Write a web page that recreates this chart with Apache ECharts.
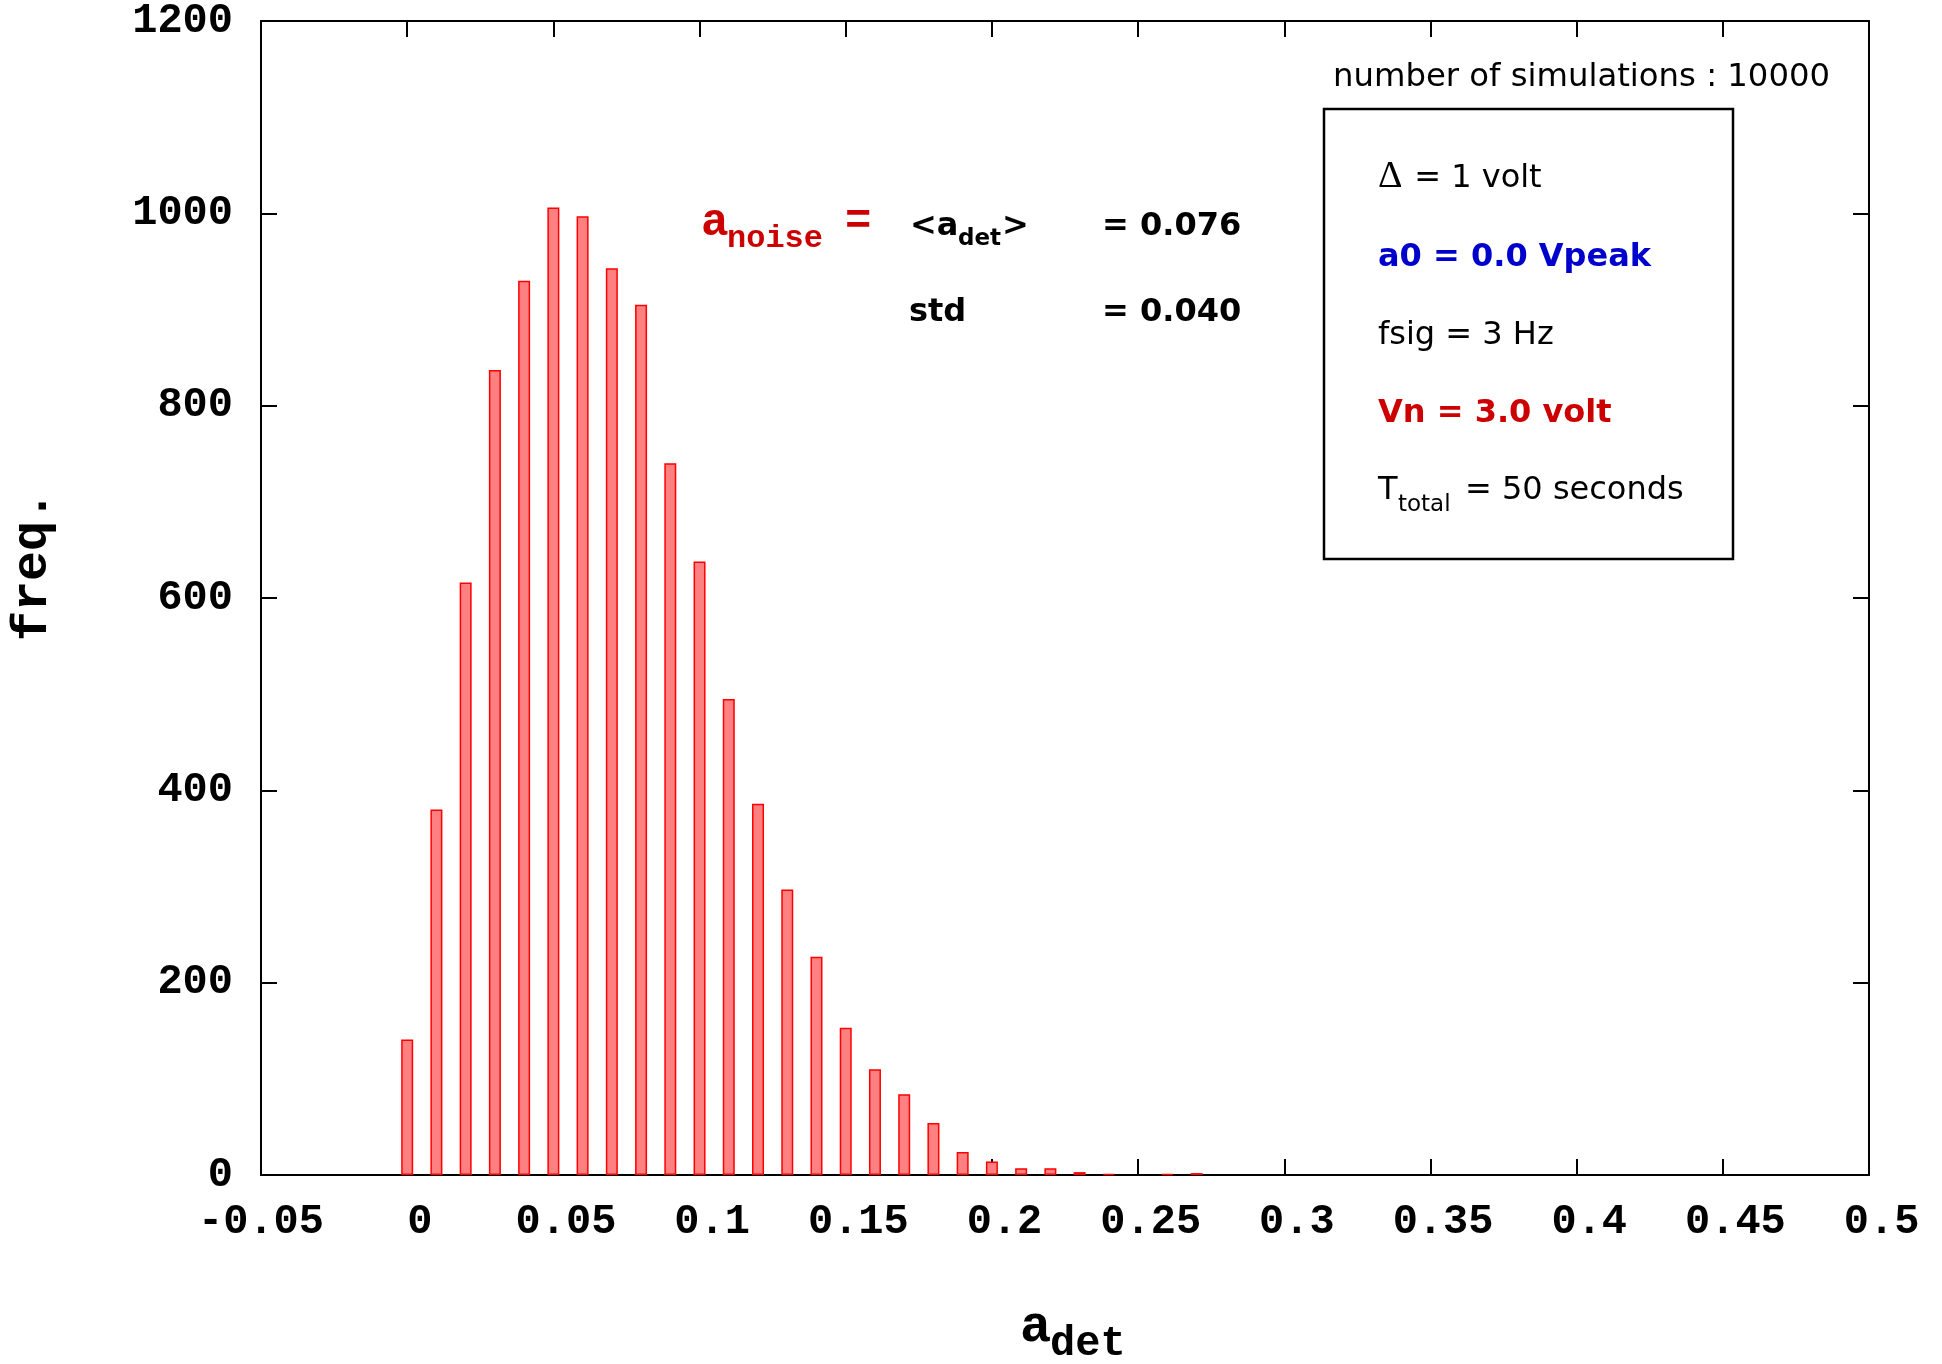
<!DOCTYPE html>
<html>
<head>
<meta charset="utf-8">
<title>Distribution of a_det</title>
<script src="https://cdn.jsdelivr.net/npm/echarts@6/dist/echarts.min.js"></script>
<style>
  html, body { margin: 0; padding: 0; background: #ffffff; }
  #chart { width: 1942px; height: 1364px; }
</style>
</head>
<body>
<div id="chart"></div>
<script>
// Histogram of the detected amplitude a_det over 10000 simulations (bin width 0.01)
const binCenters = [0.00, 0.01, 0.02, 0.03, 0.04, 0.05, 0.06, 0.07, 0.08, 0.09,
                    0.10, 0.11, 0.12, 0.13, 0.14, 0.15, 0.16, 0.17, 0.18, 0.19,
                    0.20, 0.21, 0.22, 0.23, 0.24, 0.26, 0.27];
const counts = [141, 380, 616, 837, 930, 1006, 997, 943, 905, 740,
                638, 495, 386, 297, 227, 153, 110, 84, 54, 24,
                14, 7, 7, 3, 1, 1, 2];

// Axis ranges and tick steps
const xRange = [-0.05, 0.5];
const xStep = 0.05;
const yRange = [0, 1200];
const yStep = 200;

// Annotation texts
const statsMean = '= 0.076';
const statsStd = '= 0.040';
const nSimText = 'number of simulations : 10000';
const paramLines = ['1 volt', 'a0 = 0.0 Vpeak', 'fsig = 3 Hz', 'Vn = 3.0 volt', '= 50 seconds'];

const MONO = '"Liberation Mono", "Courier New", monospace';
const SANS = '"DejaVu Sans", Verdana, sans-serif';
const RED = '#cc0000';
const BLUE = '#0000cc';

const chart = echarts.init(document.getElementById('chart'), null, { renderer: 'canvas' });

const barData = binCenters.map((x, i) => [x, counts[i]]);

// positive x labels carry a leading blank in place of the sign
function fmtX(v) {
  const s = String(parseFloat(v.toFixed(2)));
  return v < 0 ? s : ' ' + s;
}
function fmtY(v) {
  return String(Math.round(v));
}

const axisLineStyle = { color: '#000', width: 2 };
const tickStyle = { show: true, inside: true, length: 16, lineStyle: { color: '#000', width: 2 } };
const tickLabel = { fontFamily: MONO, fontWeight: 'bold', fontSize: 42, color: '#000' };

// Text helper: x = left edge, base = approximate baseline
function txt(x, base, text, font, size, weight, color) {
  return {
    type: 'text', x: x, y: base - 0.3 * size, silent: true,
    style: { text: text, fontFamily: font, fontSize: size, fontWeight: weight,
             fill: color, align: 'left', verticalAlign: 'middle' }
  };
}

const graphics = [
  // stats block
  txt(701, 237, 'a', MONO, 46, 'bold', RED),
  txt(727, 249, 'noise', MONO, 32, 'bold', RED),
  txt(845, 236, '=', MONO, 44, 'bold', RED),
  txt(910, 236, '<a', SANS, 32, 'bold', '#000'),
  txt(958, 246, 'det', SANS, 23, 'bold', '#000'),
  txt(1002, 236, '>', SANS, 32, 'bold', '#000'),
  txt(1102, 236, statsMean, SANS, 32, 'bold', '#000'),
  txt(909, 322, 'std', SANS, 32, 'bold', '#000'),
  txt(1102, 322, statsStd, SANS, 32, 'bold', '#000'),
  // simulation count
  txt(1333, 87, nSimText, SANS, 32.3, 'normal', '#000'),
  // parameter box
  {
    type: 'rect', silent: true,
    shape: { x: 1324, y: 109, width: 409, height: 450 },
    style: { fill: 'none', stroke: '#000', lineWidth: 2.5 }
  },
  txt(1378, 188, 'Δ', '"Liberation Serif", serif', 38, 'normal', '#000'),
  txt(1404, 188, ' = ' + paramLines[0], SANS, 32, 'normal', '#000'),
  txt(1378, 267, paramLines[1], SANS, 32, 'bold', BLUE),
  txt(1378, 345, paramLines[2], SANS, 32, 'normal', '#000'),
  txt(1378, 423, paramLines[3], SANS, 32, 'bold', RED),
  txt(1378, 500, 'T', SANS, 32, 'normal', '#000'),
  txt(1398, 512, 'total', SANS, 23, 'normal', '#000'),
  txt(1465, 500, paramLines[4], SANS, 32, 'normal', '#000'),
  // x axis title
  txt(1020, 1344, 'a', MONO, 52, 'bold', '#000'),
  txt(1050, 1357, 'det', MONO, 42, 'bold', '#000'),
  // y axis title (reads bottom to top)
  {
    type: 'text', x: 33, y: 566, rotation: Math.PI / 2, silent: true,
    style: { text: 'freq.', fontFamily: MONO, fontSize: 50, fontWeight: 'bold',
             fill: '#000', align: 'center', verticalAlign: 'middle' }
  }
];

const option = {
  animation: false,
  backgroundColor: '#ffffff',
  grid: { left: 261, right: 73, top: 20, bottom: 189, containLabel: false },
  xAxis: [
    {
      type: 'value', position: 'bottom',
      min: xRange[0], max: xRange[1], interval: xStep,
      axisLine: { show: true, onZero: false, lineStyle: axisLineStyle },
      axisTick: tickStyle,
      splitLine: { show: false },
      axisLabel: Object.assign({ margin: 26, formatter: fmtX }, tickLabel)
    },
    {
      type: 'value', position: 'top',
      min: xRange[0], max: xRange[1], interval: xStep,
      axisLine: { show: true, onZero: false, lineStyle: axisLineStyle },
      axisTick: tickStyle,
      splitLine: { show: false },
      axisLabel: { show: false }
    }
  ],
  yAxis: [
    {
      type: 'value', position: 'left',
      min: yRange[0], max: yRange[1], interval: yStep,
      axisLine: { show: true, onZero: false, lineStyle: axisLineStyle },
      axisTick: tickStyle,
      splitLine: { show: false },
      axisLabel: Object.assign({ margin: 28, formatter: fmtY, padding: [18, 0, 0, 0] }, tickLabel)
    },
    {
      type: 'value', position: 'right',
      min: yRange[0], max: yRange[1], interval: yStep,
      axisLine: { show: true, onZero: false, lineStyle: axisLineStyle },
      axisTick: tickStyle,
      splitLine: { show: false },
      axisLabel: { show: false }
    }
  ],
  series: [
    {
      type: 'bar', xAxisIndex: 0, yAxisIndex: 0,
      data: barData, barWidth: 12,
      itemStyle: { color: '#ff8080', borderColor: '#ff0000', borderWidth: 1.5 },
      z: 1
    }
  ],
  graphic: graphics
};

chart.setOption(option);
</script>
</body>
</html>
